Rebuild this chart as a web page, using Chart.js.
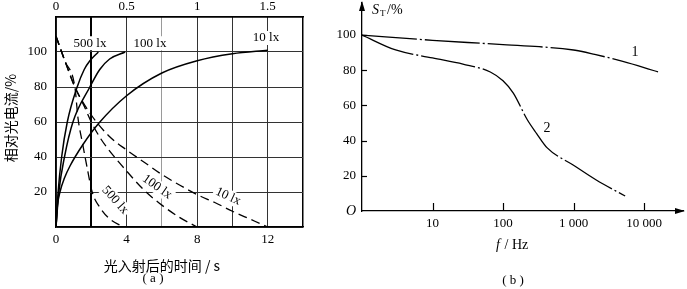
<!DOCTYPE html>
<html>
<head>
<meta charset="utf-8">
<script src="https://cdn.jsdelivr.net/npm/chart.js@4.4.0/dist/chart.umd.min.js"></script>
<style>
html, body { margin: 0; padding: 0; background: #fff; }
#boxA { position: absolute; left: 0; top: 0; }
#boxB { position: absolute; left: 330px; top: 0; }
</style>
</head>
<body>
<canvas id="boxA" width="330" height="289"></canvas>
<canvas id="boxB" width="357" height="289"></canvas>
<script>
// ---- (a) rise curves, time on the top scale (s)
const riseT500 = [0, 0.015, 0.04, 0.08, 0.15, 0.2, 0.24, 0.3];
const riseV500 = [0, 20, 40, 60, 80, 90, 95, 100];
const riseT100 = [0, 0.02, 0.06, 0.12, 0.24, 0.31, 0.38, 0.49];
const riseV100 = [0, 20, 40, 60, 80, 90, 96, 100];
const riseT10 = [0, 0.01, 0.028, 0.06, 0.1, 0.19, 0.3, 0.5, 0.75, 1.0, 1.25, 1.5];
const riseV10 = [0, 12, 20, 28, 35, 47, 59, 75, 88, 95, 99, 101];

// ---- (a) decay curves, time on the bottom scale (s)
const decT500 = [0, 0.5, 1.07, 1.25, 1.5, 1.8, 2.05, 2.5, 3, 3.8];
const decV500 = [109, 95, 80, 62, 48, 32, 20, 11, 5, 0];
const decT100 = [0, 0.5, 1.07, 1.6, 2, 2.5, 3, 4, 5, 6, 7, 8];
const decV100 = [109, 95, 80, 69, 60, 51, 44, 32, 21, 12.5, 5.5, 0];
const decT10 = [0, 0.5, 1.07, 2, 3, 4, 5, 6, 7, 8, 9, 10, 11, 12];
const decV10 = [109, 95, 80, 64, 52, 44, 37, 30, 24, 18.5, 14, 9, 4.5, 0];

const bottomTicksA = [0, 4, 8, 12];
const topTicksA = [0, 0.5, 1, 1.5];
const yTicksA = [20, 40, 60, 80, 100];

// ---- (b) frequency response
const freq1 = [1, 10, 100, 1000, 2000, 5000, 10000, 15800];
const resp1 = [100, 97, 94.5, 91.5, 89, 85, 81.5, 79];
const freq2 = [1, 3, 10, 27, 66, 100, 140, 220, 300, 420, 1000, 2100, 5400];
const resp2 = [100, 91.5, 87, 83.5, 79, 74, 67, 52, 44, 36, 26, 17.6, 8.5];

const xTicksB = [10, 100, 1000, 10000];
const xLabelsB = ['10', '100', '1 000', '10 000'];
const yTicksB = [0, 20, 40, 60, 80, 100];

const serif = '"Liberation Serif", "Times New Roman", serif';
const cjk = '"Noto Sans CJK SC", sans-serif';

function pts(xs, ys) {
    return xs.map((x, i) => ({x: x, y: ys[i]}));
}

function line(xs, ys, axis, dash) {
    return {
        data: pts(xs, ys),
        xAxisID: axis,
        borderColor: '#000',
        borderWidth: dash ? 1.3 : 1.5,
        borderDash: dash || [],
        pointRadius: 0,
        fill: false,
        cubicInterpolationMode: 'monotone'
    };
}

// text with a white box behind it
function tag(ctx, text, px, py, angle) {
    ctx.save();
    ctx.translate(px, py);
    ctx.rotate(angle * Math.PI / 180);
    const w = ctx.measureText(text).width;
    ctx.fillStyle = '#fff';
    ctx.fillRect(-w / 2 - 2, -7, w + 4, 14);
    ctx.fillStyle = '#000';
    ctx.fillText(text, 0, 0);
    ctx.restore();
}

const textA = {
    id: 'textA',
    afterDatasetsDraw(chart) {
        const ctx = chart.ctx;
        const xs = chart.scales.x, ys = chart.scales.y;
        ctx.save();
        ctx.font = '13px ' + serif;
        ctx.textAlign = 'center';
        ctx.textBaseline = 'middle';
        tag(ctx, '500 lx', xs.getPixelForValue(1.93), ys.getPixelForValue(105), 0);
        tag(ctx, '100 lx', xs.getPixelForValue(5.33), ys.getPixelForValue(105), 0);
        tag(ctx, '10 lx', xs.getPixelForValue(11.9), ys.getPixelForValue(108), 0);
        tag(ctx, '500 lx', xs.getPixelForValue(3.35), ys.getPixelForValue(15.4), 48);
        tag(ctx, '100 lx', xs.getPixelForValue(5.73), ys.getPixelForValue(22.9), 35);
        tag(ctx, '10 lx', xs.getPixelForValue(9.75), ys.getPixelForValue(17.5), 25);

        ctx.font = '14px ' + cjk;
        ctx.fillText('光入射后的时间 / s', 162, 266);
        ctx.font = '13px ' + serif;
        ctx.fillText('( a )', 153, 279);
        ctx.translate(11, 118);
        ctx.rotate(-Math.PI / 2);
        ctx.font = '14px ' + cjk;
        ctx.fillText('相对光电流/%', 0, 0);
        ctx.restore();
    }
};

new Chart(document.getElementById('boxA'), {
    type: 'line',
    data: {
        datasets: [
            line(riseT500, riseV500, 'x2'),
            line(riseT100, riseV100, 'x2'),
            line(riseT10, riseV10, 'x2'),
            line(decT500, decV500, 'x', [9, 5]),
            line(decT100, decV100, 'x', [9, 5]),
            line(decT10, decV10, 'x', [9, 5])
        ]
    },
    options: {
        responsive: false,
        animation: false,
        layout: {padding: {left: 0, right: 27, top: 0, bottom: 0}},
        plugins: {legend: {display: false}, tooltip: {enabled: false}},
        scales: {
            x: {
                type: 'linear', position: 'bottom', min: 0, max: 14,
                afterFit: s => { s.height = 62; },
                ticks: {
                    stepSize: 2, autoSkip: false, maxRotation: 0, padding: 5,
                    color: '#000', font: {family: serif, size: 13},
                    callback: v => bottomTicksA.includes(v) ? String(v) : ''
                },
                grid: {
                    drawTicks: false,
                    color: c => c.tick.value === 6 ? '#9a9a9a' : (c.tick.value === 2 || c.tick.value === 14 ? '#000' : '#333'),
                    lineWidth: c => c.tick.value === 2 ? 2 : (c.tick.value === 14 ? 1.5 : 1)
                },
                border: {color: '#000', width: 1.5}
            },
            x2: {
                type: 'linear', position: 'top', min: 0, max: 1.75,
                afterFit: s => { s.height = 17; },
                afterBuildTicks: s => { s.ticks = topTicksA.map(v => ({value: v})); },
                ticks: {
                    autoSkip: false, maxRotation: 0, padding: 3,
                    color: '#000', font: {family: serif, size: 13},
                    callback: v => String(v)
                },
                grid: {drawOnChartArea: false, drawTicks: false},
                border: {color: '#000', width: 1.5}
            },
            y: {
                min: 0, max: 120,
                afterFit: s => { s.width = 56; },
                ticks: {
                    stepSize: 20, padding: 9,
                    color: '#000', font: {family: serif, size: 13},
                    callback: v => yTicksA.includes(v) ? String(v) : ''
                },
                grid: {
                    drawTicks: false,
                    color: c => c.tick.value === 120 ? '#000' : '#333',
                    lineWidth: c => c.tick.value === 120 ? 1.5 : 1
                },
                border: {color: '#000', width: 1.5}
            }
        }
    },
    plugins: [textA]
});

// ---- chart (b)
const textB = {
    id: 'textB',
    afterDraw(chart) {
        const ctx = chart.ctx;
        const xs = chart.scales.x, ys = chart.scales.y, a = chart.chartArea;
        ctx.save();
        ctx.strokeStyle = '#000';
        ctx.fillStyle = '#000';
        ctx.lineWidth = 1.2;
        // tick marks inside the axes
        xs.ticks.forEach(t => {
            const px = Math.round(xs.getPixelForValue(t.value)) + 0.5;
            ctx.beginPath();
            ctx.moveTo(px, a.bottom);
            ctx.lineTo(px, a.bottom - 8);
            ctx.stroke();
        });
        ys.ticks.forEach(t => {
            if (t.value === 0) return;
            const py = Math.round(ys.getPixelForValue(t.value)) + 0.5;
            ctx.beginPath();
            ctx.moveTo(a.left, py);
            ctx.lineTo(a.left + 5, py);
            ctx.stroke();
        });
        // arrow heads
        ctx.beginPath();
        ctx.moveTo(a.right + 2, a.bottom);
        ctx.lineTo(a.right - 8, a.bottom - 3);
        ctx.lineTo(a.right - 8, a.bottom + 3);
        ctx.closePath();
        ctx.fill();
        ctx.beginPath();
        ctx.moveTo(a.left, a.top - 2);
        ctx.lineTo(a.left - 3, a.top + 8);
        ctx.lineTo(a.left + 3, a.top + 8);
        ctx.closePath();
        ctx.fill();

        ctx.textBaseline = 'middle';
        ctx.textAlign = 'left';
        ctx.font = 'italic 14px ' + serif;
        ctx.fillText('S', 42, 10);
        ctx.font = '9px ' + serif;
        ctx.fillText('T', 50, 14);
        ctx.font = '14px ' + serif;
        ctx.fillText('/%', 57, 10);

        ctx.font = 'italic 14px ' + serif;
        ctx.fillText('f', 166, 245);
        ctx.font = '14px ' + serif;
        ctx.fillText(' / Hz', 171, 245);

        ctx.textAlign = 'center';
        ctx.font = '13px ' + serif;
        ctx.fillText('( b )', 183, 281);
        ctx.font = '14px ' + serif;
        ctx.fillText('1', xs.getPixelForValue(7450), ys.getPixelForValue(90.3));
        ctx.fillText('2', xs.getPixelForValue(420), ys.getPixelForValue(47));
        ctx.restore();
    }
};

new Chart(document.getElementById('boxB'), {
    type: 'line',
    data: {
        datasets: [
            line(freq1, resp1, 'x', [55, 3, 2, 3]),
            line(freq2, resp2, 'x', [55, 3, 2, 3])
        ]
    },
    options: {
        responsive: false,
        animation: false,
        layout: {padding: {left: 0, right: 4, top: 3, bottom: 0}},
        plugins: {legend: {display: false}, tooltip: {enabled: false}},
        scales: {
            x: {
                type: 'logarithmic', min: 1, max: 35700,
                afterFit: s => { s.height = 78; s.paddingLeft = 0; s.paddingRight = 0; },
                afterBuildTicks: s => { s.ticks = xTicksB.map(v => ({value: v})); },
                ticks: {
                    autoSkip: false, maxRotation: 0, padding: 5,
                    color: '#000', font: {family: serif, size: 13},
                    callback: (v, i) => xLabelsB[i]
                },
                grid: {display: false, drawTicks: false},
                border: {color: '#000', width: 1.3}
            },
            y: {
                min: 0, max: 118.2,
                afterFit: s => { s.width = 32; s.paddingTop = 0; s.paddingBottom = 0; },
                afterBuildTicks: s => { s.ticks = yTicksB.map(v => ({value: v})); },
                ticks: {
                    padding: 6, color: '#000',
                    font: c => c.tick && c.tick.value === 0 ? {family: serif, size: 14, style: 'italic'} : {family: serif, size: 13},
                    callback: v => v === 0 ? 'O' : String(v)
                },
                grid: {display: false, drawTicks: false},
                border: {color: '#000', width: 1.3}
            }
        }
    },
    plugins: [textB]
});
</script>
</body>
</html>
